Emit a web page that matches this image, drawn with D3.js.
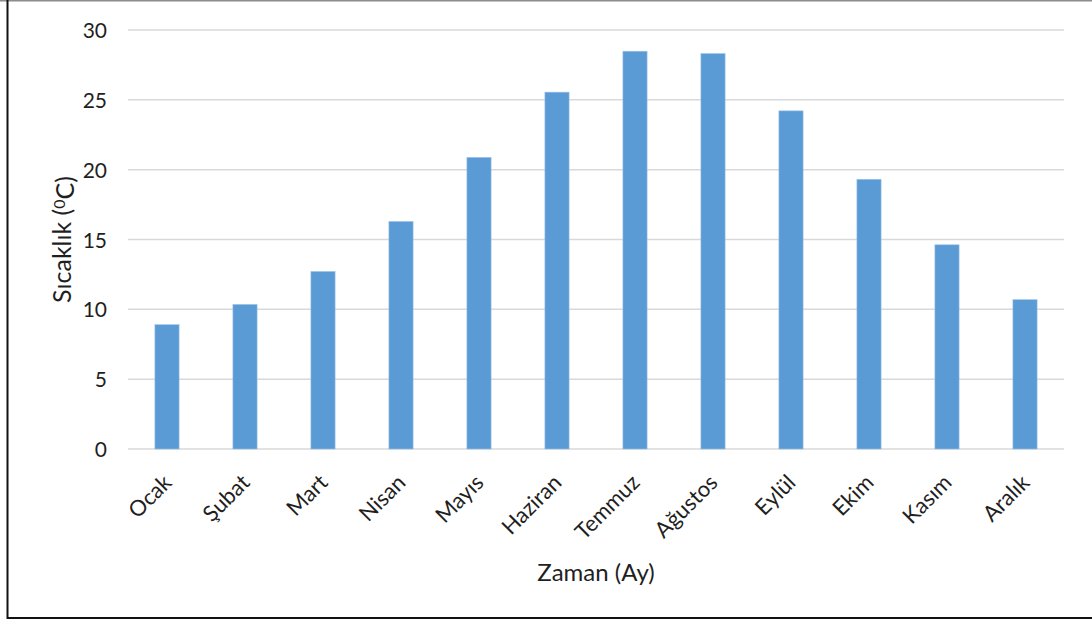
<!DOCTYPE html>
<html>
<head>
<meta charset="utf-8">
<script src="https://cdn.jsdelivr.net/npm/d3@7"></script>
<style>
  html, body { margin: 0; padding: 0; background: #fff; }
  svg { display: block; }
  text { font-family: Lato, "Open Sans", sans-serif; fill: #1f1f1f; }
</style>
</head>
<body>
<svg id="chart" width="1092" height="621"></svg>
<script>
const months = ["Ocak", "Şubat", "Mart", "Nisan", "Mayıs", "Haziran", "Temmuz", "Ağustos", "Eylül", "Ekim", "Kasım", "Aralık"];
const temperatures = [8.9, 10.35, 12.71, 16.29, 20.88, 25.55, 28.48, 28.31, 24.21, 19.31, 14.62, 10.69];
const yTicks = [0, 5, 10, 15, 20, 25, 30];
const xTitle = "Zaman (Ay)";
const yTitleMain = "Sıcaklık (";
const yTitleSup = "0";
const yTitleEnd = "C)";

const svg = d3.select("#chart");
const W = 1092, H = 621;
const plot = { left: 128, right: 1064, top: 30, bottom: 449 };

// frame
svg.append("line").attr("x1", 0).attr("x2", W).attr("y1", 0.75).attr("y2", 0.75)
  .attr("stroke", "#8c8c8c").attr("stroke-width", 1.5);
svg.append("line").attr("x1", 7.5).attr("x2", 7.5).attr("y1", 0).attr("y2", 619)
  .attr("stroke", "#111").attr("stroke-width", 2);
svg.append("line").attr("x1", 7).attr("x2", W).attr("y1", 618).attr("y2", 618)
  .attr("stroke", "#111").attr("stroke-width", 2);

const x = d3.scaleBand().domain(months).range([plot.left, plot.right])
  .paddingInner(0.69).paddingOuter(0.345);
const y = d3.scaleLinear().domain([0, 30]).range([plot.bottom, plot.top]);

// gridlines
svg.append("g").selectAll("line").data(yTicks).join("line")
  .attr("x1", plot.left).attr("x2", plot.right)
  .attr("y1", d => y(d)).attr("y2", d => y(d))
  .attr("stroke", "#d9d9d9").attr("stroke-width", 1.5);

// y tick labels
const yAxis = d3.axisLeft(y).tickValues(yTicks).tickSize(0).tickPadding(0);
const gy = svg.append("g").attr("transform", `translate(${plot.left - 21},0)`).call(yAxis);
gy.select(".domain").remove();
gy.selectAll("text").style("font-size", "21px").style("fill", "#1f1f1f")
  .style("font-family", "Lato, 'Open Sans', sans-serif").attr("dy", "0.36em");

// bars
svg.append("g").selectAll("rect").data(months).join("rect")
  .attr("x", d => x(d))
  .attr("width", x.bandwidth())
  .attr("y", (d, i) => y(temperatures[i]))
  .attr("height", (d, i) => y(0) - y(temperatures[i]))
  .attr("fill", "#5b9bd5")
  .attr("stroke", "#9cc3e6").attr("stroke-width", 0.6);

// x labels
const xAxis = d3.axisBottom(x).tickSize(0).tickPadding(0);
const gx = svg.append("g").attr("transform", `translate(0,${plot.bottom})`).call(xAxis);
gx.select(".domain").remove();
gx.selectAll("text")
  .style("font-size", "22px").style("fill", "#1f1f1f")
  .style("font-family", "Lato, 'Open Sans', sans-serif")
  .attr("text-anchor", "end")
  .attr("dy", null)
  .attr("y", 0)
  .attr("transform", "translate(6,35) rotate(-45)");

// x title
svg.append("text").attr("x", 596).attr("y", 581)
  .attr("text-anchor", "middle").style("font-size", "24px").text(xTitle);

// y title
const yt = svg.append("text")
  .attr("transform", `translate(71,${(plot.top + plot.bottom) / 2}) rotate(-90)`)
  .attr("text-anchor", "middle").style("font-size", "25px");
yt.append("tspan").text(yTitleMain);
yt.append("tspan").attr("dy", "-0.35em").style("font-size", "16px").text(yTitleSup);
yt.append("tspan").attr("dy", "0.35em").text(yTitleEnd);
</script>
</body>
</html>
